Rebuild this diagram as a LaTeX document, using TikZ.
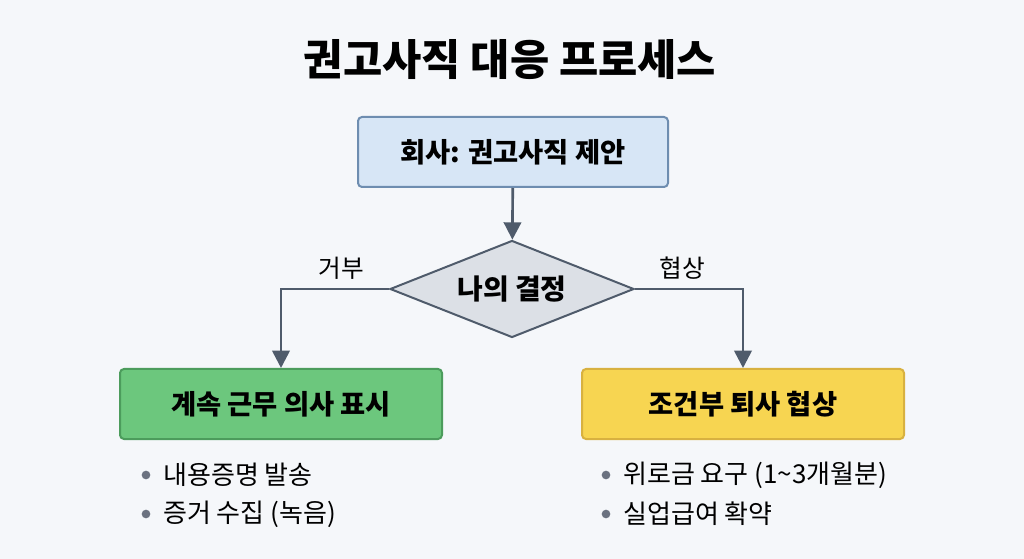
\documentclass[tikz,border=0pt]{standalone}
\usepackage{fontspec}
\setmainfont{Noto Sans CJK KR}
\usetikzlibrary{arrows.meta,shapes.geometric}
\definecolor{bgcol}{HTML}{F5F7FA}
\definecolor{linecol}{HTML}{4F5B6B}
\definecolor{bluefill}{HTML}{D7E6F6}
\definecolor{blueline}{HTML}{6E8DB0}
\definecolor{grayfill}{HTML}{DCE0E6}
\definecolor{greenfill}{HTML}{6CC77D}
\definecolor{greenline}{HTML}{4C9C5C}
\definecolor{yellowfill}{HTML}{F7D551}
\definecolor{yellowline}{HTML}{D8B140}
\definecolor{dotcol}{HTML}{6B7280}

\begin{document}
\begin{tikzpicture}[x=0.75pt,y=-0.75pt]
    \tikzset{stepbox/.style = {shape=rectangle, draw, rounded corners=3pt, line width=1.5pt,
        minimum width=241.5pt, minimum height=52.5pt, font=\bfseries\fontsize{20.5}{24}\selectfont}}
    \tikzset{choice/.style = {shape=diamond, draw=linecol, fill=grayfill, line width=1.5pt, aspect=2.5,
        minimum width=183pt, minimum height=72.75pt, inner sep=0pt, font=\bfseries\fontsize{21}{24}\selectfont}}
    \tikzset{edge/.style = {draw=linecol, line width=2pt, -{Triangle[length=13pt,width=13pt]}}}
    \tikzset{tag/.style = {font=\fontsize{18.5}{21}\selectfont}}
    \tikzset{item/.style = {anchor=west, font=\fontsize{19.5}{23}\selectfont, inner sep=0pt}}
    \tikzset{dot/.style = {circle, fill=dotcol, inner sep=0pt, minimum size=6.5pt}}

    \fill[bgcol] (0,0) rectangle (1024,559);

    % title
    \node[font=\bfseries\fontsize{32}{38}\selectfont] (title) at (510,60) {권고사직 대응 프로세스};

    % vertices
    \node[stepbox, minimum width=232.5pt, draw=blueline, fill=bluefill] (offer) at (513,152) {회사: 권고사직 제안};
    \node[choice] (decide) at (512,289) {나의 결정};
    \node[stepbox, draw=greenline, fill=greenfill] (stay) at (281,404) {계속 근무 의사 표시};
    \node[stepbox, draw=yellowline, fill=yellowfill] (deal) at (743,404) {조건부 퇴사 협상};

    % edges
    \draw[edge] (offer) -- (decide);
    \draw[edge] (decide.west) -| node[tag, pos=0.22, above=3pt]{거부} (stay.north);
    \draw[edge] (decide.east) -| node[tag, pos=0.22, above=3pt]{협상} (deal.north);

    % bullets
    \node[dot] (d1) at (146,475) {};
    \node[item] (s1) at (163,475) {내용증명 발송};
    \node[dot] (d2) at (146,514) {};
    \node[item] (s2) at (163,514) {증거 수집 (녹음)};
    \node[dot] (d3) at (606,475) {};
    \node[item] (n1) at (623,475) {위로금 요구 (1\textasciitilde3개월분)};
    \node[dot] (d4) at (606,514) {};
    \node[item] (n2) at (623,514) {실업급여 확약};
\end{tikzpicture}
\end{document}
